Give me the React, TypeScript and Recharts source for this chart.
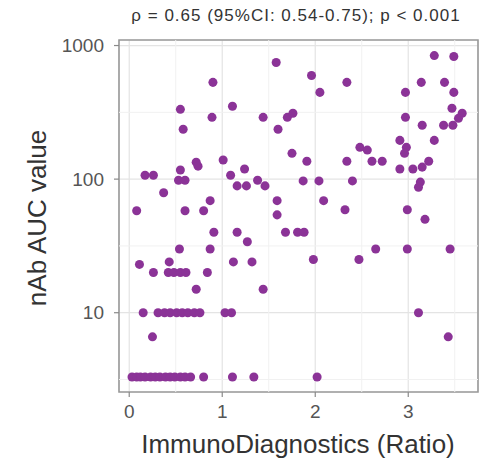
import React from 'react';
import {
  ScatterChart,
  Scatter,
  XAxis,
  YAxis,
  ZAxis,
  CartesianGrid,
  ReferenceLine,
  ReferenceArea,
} from 'recharts';

// ImmunoDiagnostics ratio per sample
const ratio = [
  1.58, 1.96, 2.05, 2.34, 0.9, 0.55, 1.11, 0.89, 0.58, 1.44,
  1.7, 1.76, 1.6, 2.97, 3.28, 3.49, 3.14, 3.39, 3.49, 2.97,
  3.15, 3.47, 3.58, 3.54, 3.38, 3.48, 2.91, 2.98, 2.96, 3.28,
  1.75, 2.48, 2.56, 2.61, 2.72, 2.34, 1.91, 2.91, 3.05, 3.15,
  3.22, 3.13, 3.11, 1.87, 2.04, 2.4, 0.72, 0.74, 1.01, 0.55,
  0.53, 0.6, 1.09, 1.24, 0.17, 0.26, 1.38, 1.46, 1.16, 1.26,
  0.37, 0.87, 1.59, 0.08, 0.6, 0.8, 1.59, 2.09, 2.32, 2.99,
  3.18, 0.91, 1.16, 1.27, 1.68, 1.81, 1.88, 0.54, 0.87, 2.65,
  2.99, 3.45, 0.43, 0.11, 1.12, 1.32, 1.98, 2.47, 0.26, 0.42,
  0.48, 0.55, 0.61, 0.84, 0.72, 1.44, 0.15, 0.31, 0.38, 0.44,
  0.51, 0.57, 0.63, 0.7, 0.76, 1.03, 1.1, 3.11, 0.25, 3.43,
  0.03, 0.08, 0.12, 0.17, 0.23, 0.28, 0.33, 0.39, 0.44, 0.49,
  0.55, 0.6, 0.66, 0.8, 1.11, 1.34, 2.02,
];

// Neutralising antibody AUC per sample (same order)
const auc = [
  747, 597, 446, 530, 530, 333, 351, 290, 236, 290,
  290, 311, 236, 446, 841, 828, 530, 530, 446, 290,
  253, 339, 311, 285, 253, 253, 195, 173, 156, 195,
  156, 173, 165, 136, 136, 136, 136, 119, 119, 123,
  136, 95, 87, 97, 97, 97, 134, 125, 139, 117,
  98, 98, 107, 119, 107, 107, 98, 89, 89, 89,
  79, 69, 69, 58, 58, 58, 54, 69, 59, 59,
  50, 40, 40, 34, 40, 40, 40, 30, 30, 30,
  30, 30, 24, 23, 24, 24, 25, 25, 20, 20,
  20, 20, 20, 20, 15, 15, 10, 10, 10, 10,
  10, 10, 10, 10, 10, 10, 10, 10, 6.6, 6.6,
  3.3, 3.3, 3.3, 3.3, 3.3, 3.3, 3.3, 3.3, 3.3, 3.3,
  3.3, 3.3, 3.3, 3.3, 3.3, 3.3, 3.3,
];

const xTicks = [0, 1, 2, 3];
const yTicks = [10, 100, 1000];
const xMinor = [0.5, 1.5, 2.5, 3.5];
const yMinor = [3.162, 31.62, 316.2];
const xDomain = [-0.11, 3.75];
const yDomain = [2.55, 1100];

const title = 'ρ = 0.65 (95%CI: 0.54-0.75); p < 0.001';
const xTitle = 'ImmunoDiagnostics (Ratio)';
const yTitle = 'nAb AUC value';

const points = ratio.map((x, i) => ({ x, y: auc[i] }));

const FONT = '"Liberation Sans", Arial, Helvetica, sans-serif';
const POINT = '#8B3397';

export default function App() {
  return (
    <div
      style={{
        position: 'absolute',
        left: 0,
        top: 0,
        width: 487,
        height: 464,
        background: '#ffffff',
        fontFamily: FONT,
      }}
    >
      <ScatterChart
        width={487}
        height={464}
        margin={{ top: 40, right: 9, bottom: 0, left: 0 }}
      >
        <CartesianGrid stroke="#e4e4e4" strokeWidth={1.2} />
        {xMinor.map((v) => (
          <ReferenceLine key={'xm' + v} x={v} stroke="#f1f1f1" strokeWidth={1} />
        ))}
        {yMinor.map((v) => (
          <ReferenceLine key={'ym' + v} y={v} stroke="#f1f1f1" strokeWidth={1} />
        ))}
        <XAxis
          type="number"
          dataKey="x"
          domain={xDomain}
          ticks={xTicks}
          allowDataOverflow
          axisLine={false}
          tickLine={{ stroke: '#8a8a8a', strokeWidth: 1.2 }}
          tickSize={5}
          tickMargin={8}
          height={72}
          tick={{ fontSize: 19, fill: '#555555', fontFamily: FONT }}
        />
        <YAxis
          type="number"
          dataKey="y"
          scale="log"
          domain={yDomain}
          ticks={yTicks}
          allowDataOverflow
          axisLine={false}
          tickLine={{ stroke: '#8a8a8a', strokeWidth: 1.2 }}
          tickSize={5}
          tickMargin={10}
          width={119}
          tick={{ fontSize: 19, fill: '#555555', fontFamily: FONT }}
        />
        <ZAxis range={[80, 80]} />
        <ReferenceArea
          x1={xDomain[0]}
          x2={xDomain[1]}
          y1={yDomain[0]}
          y2={yDomain[1]}
          fill="none"
          stroke="#9a9a9a"
          strokeWidth={1.6}
          ifOverflow="visible"
        />
        <Scatter data={points} fill={POINT} isAnimationActive={false} />
      </ScatterChart>
      <svg
        width={487}
        height={464}
        style={{ position: 'absolute', left: 0, top: 0, pointerEvents: 'none' }}
      >
        <text
          x={296}
          y={21}
          textAnchor="middle"
          fontSize={17}
          letterSpacing={1}
          fill="#333333"
          fontFamily={FONT}
        >
          {title}
        </text>
        <text
          x={298}
          y={453}
          textAnchor="middle"
          fontSize={26}
          fill="#333333"
          fontFamily={FONT}
        >
          {xTitle}
        </text>
        <text
          x={46}
          y={218}
          textAnchor="middle"
          fontSize={26}
          fill="#333333"
          fontFamily={FONT}
          transform="rotate(-90 46 218)"
        >
          {yTitle}
        </text>
      </svg>
    </div>
  );
}
